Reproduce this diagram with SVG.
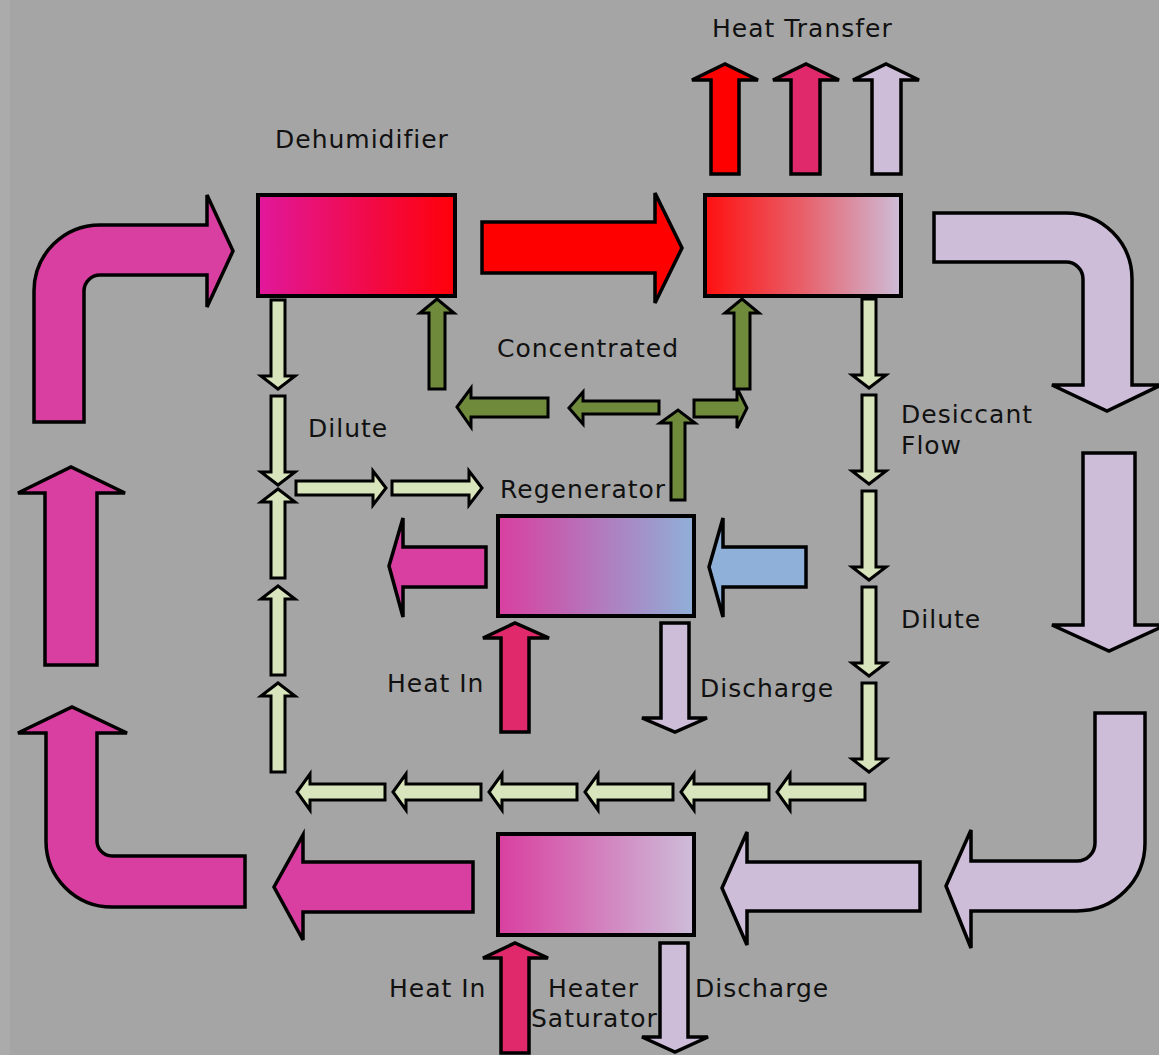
<svg xmlns="http://www.w3.org/2000/svg" xmlns:xlink="http://www.w3.org/1999/xlink" width="1159" height="1055" viewBox="0 0 1159 1055">
<style>
text{font-family:"DejaVu Sans","Liberation Sans",sans-serif;font-size:25px;letter-spacing:1px;fill:#111}
.box{stroke:#000;stroke-width:4}
.big{stroke:#000;stroke-width:3.5;stroke-linejoin:miter}
.sm{fill:#d8e4bc;stroke:#000;stroke-width:3}
.dg{fill:#708a3c;stroke:#000;stroke-width:3}
.pink{fill:#d93fa0}
.lav{fill:#cdbdd9}
.heat{fill:#e0296a}
.red{fill:#ff0000}
.blue{fill:#8fb0d8}
</style>
<defs>
<linearGradient id="gDeh" x1="0" x2="1" y1="0" y2="0"><stop offset="0" stop-color="#e0189c"/><stop offset="1" stop-color="#ff0008"/></linearGradient>
<linearGradient id="gTop" x1="0" x2="1" y1="0" y2="0"><stop offset="0" stop-color="#ff1010"/><stop offset="0.5" stop-color="#e8606a"/><stop offset="1" stop-color="#cdbdd9"/></linearGradient>
<linearGradient id="gReg" x1="0" x2="1" y1="0" y2="0"><stop offset="0" stop-color="#d93fa0"/><stop offset="1" stop-color="#8fb0d8"/></linearGradient>
<linearGradient id="gSat" x1="0" x2="1" y1="0" y2="0"><stop offset="0" stop-color="#d93fa0"/><stop offset="1" stop-color="#cdbdd9"/></linearGradient>
<path id="sd" d="M-7,0 H7 V76 H17 L0,89 L-17,76 H-7 Z"/>
<path id="su" d="M-7,0 H7 V-76 H17 L0,-89 L-17,-76 H-7 Z"/>
<path id="sl" d="M0,0 L13,-18 V-8 H88 V8 H13 V18 Z"/>
<path id="sr" d="M0,0 L-13,-17 V-7 H-90 V7 H-13 V17 Z"/>
</defs>
<rect x="0" y="0" width="1159" height="1055" fill="#a5a5a5"/>
<rect x="0" y="0" width="10" height="1055" fill="#ababab"/>

<g id="connectors">
<!-- outer air loop -->
<path class="big pink" d="M34,422 V291 A66,66 0 0 1 100,225 H207 V195 L233,251 L207,307 V275 H100 A16,16 0 0 0 84,291 V422 Z"/>
<path class="big red" d="M482,222 H655 V193 L682,248 L655,303 V273 H482 Z"/>
<path class="big lav" d="M934,213 H1066 A66,66 0 0 1 1132,279 V385 H1161 L1107,411 L1052,385 H1083 V279 A17,17 0 0 0 1066,262 H934 Z"/>
<path class="big lav" d="M1083,453 H1135 V625 H1166 L1109,651 L1052,625 H1083 Z"/>
<path class="big lav" d="M1095,713 H1145 V843 A68,68 0 0 1 1077,911 H971 V948 L946,886 L971,830 V861 H1077 A18,18 0 0 0 1095,843 Z"/>
<path class="big lav" d="M920,862 V911 H747 V945 L722,888 L747,832 V862 Z"/>
<path class="big pink" d="M473,862 V912 H303 V940 L274,887 L303,835 V862 Z"/>
<path class="big pink" d="M245,856 V907 H112 A66,66 0 0 1 46,841 V733 H18 L72,707 L127,733 H97 V841 A15,15 0 0 0 112,856 Z"/>
<path class="big pink" d="M45,665 V493 H18 L71,467 L125,493 H97 V665 Z"/>
<!-- heat transfer -->
<path class="big red" d="M711,174 V80 H692 L725,64 L758,80 H739 V174 Z"/>
<path class="big heat" d="M791,174 V80 H773 L806,64 L839,80 H820 V174 Z"/>
<path class="big lav" d="M872,174 V80 H853 L886,64 L919,80 H901 V174 Z"/>
<!-- regenerator flows -->
<path class="big pink" d="M486,547 V587 H403 V617 L389,566 L403,518 V547 Z"/>
<path class="big blue" d="M806,547 V587 H723 V617 L709,567 L723,518 V547 Z"/>
<path class="big heat" d="M501,732 V638 H483 L515,623 L549,638 H529 V732 Z"/>
<path class="big lav" d="M661,623 H689 V718 H707 L675,732 L642,718 H661 Z"/>
<!-- saturator flows -->
<path class="big heat" d="M501,1053 V958 H483 L515,943 L548,958 H529 V1053 Z"/>
<path class="big lav" d="M660,943 H688 V1037 H708 L675,1052 L642,1037 H660 Z"/>
<!-- dilute desiccant loop -->
<use href="#sd" class="sm" x="278" y="300"/>
<use href="#sd" class="sm" x="278" y="396"/>
<use href="#su" class="sm" x="278" y="578"/>
<use href="#su" class="sm" x="278" y="675"/>
<use href="#su" class="sm" x="278" y="772"/>
<use href="#sr" class="sm" x="386" y="488"/>
<use href="#sr" class="sm" x="482" y="488"/>
<use href="#sd" class="sm" x="869" y="299"/>
<use href="#sd" class="sm" x="869" y="395"/>
<use href="#sd" class="sm" x="869" y="491"/>
<use href="#sd" class="sm" x="869" y="587"/>
<use href="#sd" class="sm" x="869" y="683"/>
<use href="#sl" class="sm" x="297" y="792"/>
<use href="#sl" class="sm" x="393" y="792"/>
<use href="#sl" class="sm" x="489" y="792"/>
<use href="#sl" class="sm" x="585" y="792"/>
<use href="#sl" class="sm" x="681" y="792"/>
<use href="#sl" class="sm" x="777" y="792"/>
<!-- concentrated desiccant -->
<path class="dg" d="M429,389 V313 H420 L437,299 L454,313 H445 V389 Z"/>
<path class="dg" d="M457,407 L471,388 V398 H548 V417 H471 V427 Z"/>
<path class="dg" d="M569,408 L583,392 V401 H659 V414 H583 V424 Z"/>
<path class="dg" d="M694,400 H737 V388 L747,408 L737,428 V417 H694 Z"/>
<path class="dg" d="M734,389 V313 H725 L742,299 L759,313 H750 V389 Z"/>
<path class="dg" d="M671,500 V423 H660 L678,410 L695,423 H685 V500 Z"/>
</g>

<g id="dehumidifier">
<rect class="box" x="258" y="195" width="197" height="101" fill="url(#gDeh)"/>
<text x="275" y="148">Dehumidifier</text>
</g>
<g id="heat-exchanger">
<rect class="box" x="705" y="195" width="196" height="101" fill="url(#gTop)"/>
<text x="712" y="37">Heat Transfer</text>
</g>
<g id="regenerator">
<rect class="box" x="498" y="516" width="196" height="100" fill="url(#gReg)"/>
<text x="500" y="498">Regenerator</text>
</g>
<g id="heater-saturator">
<rect class="box" x="498" y="834" width="196" height="101" fill="url(#gSat)"/>
<text x="548" y="997">Heater</text>
<text x="531" y="1027">Saturator</text>
</g>
<g id="labels">
<text x="497" y="357">Concentrated</text>
<text x="308" y="437">Dilute</text>
<text x="901" y="423">Desiccant</text>
<text x="901" y="454">Flow</text>
<text x="901" y="628">Dilute</text>
<text x="387" y="692">Heat In</text>
<text x="700" y="697">Discharge</text>
<text x="389" y="997">Heat In</text>
<text x="695" y="997">Discharge</text>
</g>
</svg>
